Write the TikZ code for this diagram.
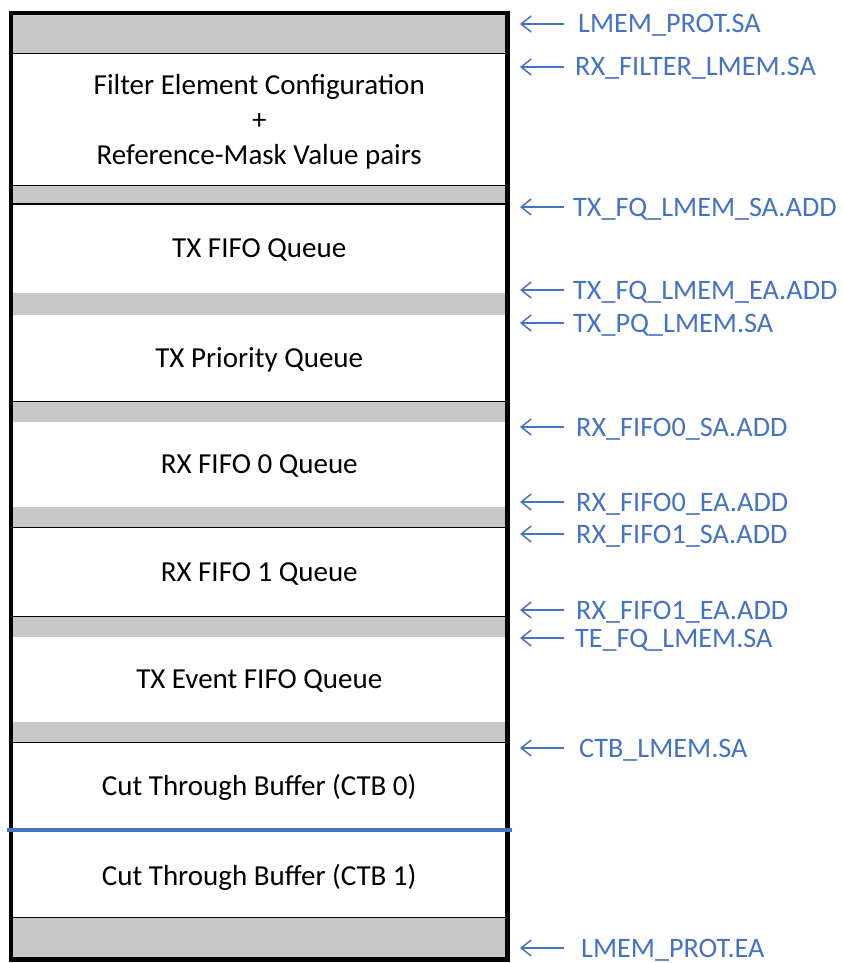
\documentclass[tikz,border=0pt]{standalone}
\usepackage{fontspec}
\setmainfont{Carlito}
\usetikzlibrary{arrows.meta}
\definecolor{bandgray}{HTML}{C8C8C8}
\definecolor{lblue}{HTML}{4472C4}
\begin{document}
\begin{tikzpicture}[x=1pt,y=-1pt,
  blk/.style={fill=white, inner sep=0pt, minimum width=492pt, text depth=0pt,
    font=\fontsize{29}{35}\selectfont, align=center},
  thinline/.style={black, line width=1.4pt},
  lbl/.style={anchor=base west, inner sep=0pt, text=lblue, font=\fontsize{28.2}{34}\selectfont},
  arr/.style={lblue, line width=1.5pt, -{Straight Barb[length=10pt,width=16pt,line width=1.5pt]}}]
\useasboundingbox (0,0) rectangle (843,963);
% outer memory frame
\node[draw=black, fill=bandgray, line width=4.5pt, inner sep=0pt,
      minimum width=496.5pt, minimum height=946.5pt] (mem) at (259.25,486.25) {};
% blocks
\node[blk, minimum height=131pt] (filter) at (259.25,119.5)
  {Filter Element Configuration\\+\\Reference-Mask Value pairs};
\node[blk, minimum height=89pt] (txfifo) at (259.25,248.5) {TX FIFO Queue};
\node[blk, minimum height=86pt] (txprio) at (259.25,358) {TX Priority Queue};
\node[blk, minimum height=85pt] (rxf0) at (259.25,464.5) {RX FIFO 0 Queue};
\node[blk, minimum height=88.5pt] (rxf1) at (259.25,571.75) {RX FIFO 1 Queue};
\node[blk, minimum height=85pt] (txev) at (259.25,679.5) {TX Event FIFO Queue};
\node[blk, minimum height=85.5pt] (ctb0) at (259.25,785.25) {Cut Through Buffer (CTB 0)};
\node[blk, minimum height=85pt] (ctb1) at (259.25,874.5) {Cut Through Buffer (CTB 1)};
% thin separating lines
\draw[thinline] (filter.north west) -- (filter.north east);
\draw[thinline] (filter.south west) -- (filter.south east);
\draw[thinline] (txfifo.north west) -- (txfifo.north east);
\draw[thinline] (txprio.south west) -- (txprio.south east);
\draw[thinline] (rxf1.north west) -- (rxf1.north east);
\draw[thinline] (rxf1.south west) -- (rxf1.south east);
\draw[thinline] (ctb0.north west) -- (ctb0.north east);
\draw[thinline] (ctb1.south west) -- (ctb1.south east);
% blue divider
\coordinate (bl) at (7,830);
\coordinate (br) at (512,830);
\draw[lblue, line width=4pt] (bl) -- (br);
% address labels with arrows
\foreach \y/\x/\n/\t in {
  24/578/a1/LMEM\_PROT.SA,
  67/575/a2/RX\_FILTER\_LMEM.SA,
  207/573/a3/TX\_FQ\_LMEM\_SA.ADD,
  290/573/a4/TX\_FQ\_LMEM\_EA.ADD,
  323/573/a5/TX\_PQ\_LMEM.SA,
  427/576/a6/RX\_FIFO0\_SA.ADD,
  502/576/a7/RX\_FIFO0\_EA.ADD,
  534/576/a8/RX\_FIFO1\_SA.ADD,
  610/576/a9/RX\_FIFO1\_EA.ADD,
  638/575/a10/TE\_FQ\_LMEM.SA,
  748/579/a11/CTB\_LMEM.SA,
  948/581/a12/LMEM\_PROT.EA}{
  \node[lbl] (\n) at (\x,\y+9) {\t};
  \coordinate (\n s) at (564,\y);
  \coordinate (\n t) at (520,\y);
  \draw[arr] (\n s) -- (\n t);
}
\end{tikzpicture}
\end{document}
